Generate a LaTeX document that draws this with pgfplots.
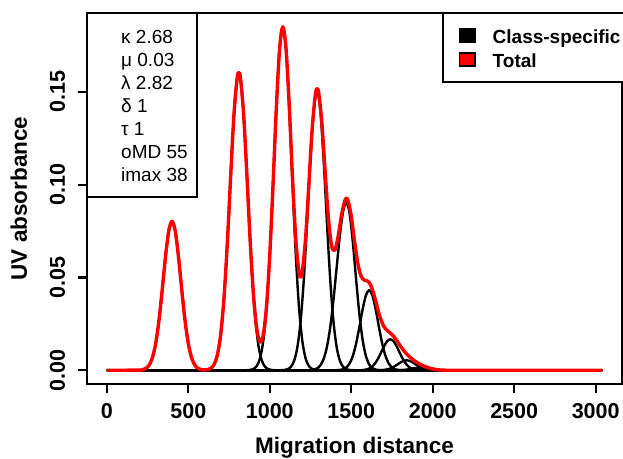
\documentclass[border=0pt]{standalone}
\usepackage{fontspec}
\setmainfont{Liberation Sans}
\usepackage{pgfplots}
\pgfplotsset{compat=1.18}

\newcommand{\tickfont}{\fontsize{21.5}{24}\selectfont\bfseries}
\newcommand{\labfont}{\fontsize{22.5}{26}\selectfont\bfseries}
\newcommand{\boxfont}{\fontsize{19}{22}\selectfont}

\begin{document}
\begin{tikzpicture}
\begin{axis}[
  name=ax,
  scale only axis, width=535pt, height=371pt,
  xmin=-121.6, xmax=3161.6, ymin=-0.0074, ymax=0.1925,
  xtick={0,500,1000,1500,2000,2500,3000},
  xticklabels={0,500,1000,1500,2000,2500,3000},
  ytick={0,0.05,0.1,0.15}, yticklabels={0.00,0.05,0.10,0.15},
  tick align=outside, major tick length=9pt,
  xtick pos=bottom, ytick pos=left,
  tick style={line width=2.2pt, black},
  axis line style={line width=2.2pt},
  ticklabel style={font=\tickfont},
  xticklabel style={anchor=base, yshift=-25pt},
  yticklabel style={rotate=90, anchor=base, yshift=13pt},
  xlabel={Migration distance}, ylabel={UV absorbance},
  every axis x label/.style={at={(rel axis cs:0.5,0)}, anchor=base, yshift=-69pt, font=\labfont},
  every axis y label/.style={at={(rel axis cs:0,0.5)}, rotate=90, anchor=base, yshift=60pt, font=\labfont},
  legend style={at={(0.6654,1)}, anchor=north west, draw=black, line width=2.2pt,
    outer sep=0pt, inner xsep=16pt, inner ysep=10.5pt, fill=white,
    font=\fontsize{19}{22}\selectfont\bfseries, column sep=15pt,
    nodes={text height=17.3pt, text depth=0.7pt, inner ysep=3pt}},
  legend cell align=left,
]
% class-specific curves
\addplot[black, line width=2.4pt, smooth, line join=round, forget plot] coordinates {
(0,0) (160,0) (180,0.00002) (200,0.00008) (220,0.00031) (240,0.00100) (260,0.00279) (280,0.00680)
(300,0.01445) (320,0.02680) (340,0.04331) (360,0.06103) (380,0.07498) (400,0.08030) (420,0.07498)
(440,0.06103) (460,0.04331) (480,0.02680) (500,0.01445) (520,0.00680) (540,0.00279) (560,0.00100)
(580,0.00031) (600,0.00008) (620,0.00002) (640,0) (3040,0)};
\addplot[black, line width=2.4pt, smooth, line join=round, forget plot] coordinates {
(0,0) (570,0.00001) (590,0.00004) (610,0.00017) (630,0.00062) (650,0.00199) (670,0.00556) (690,0.01357)
(710,0.02885) (730,0.05350) (750,0.08647) (770,0.12183) (790,0.14967) (810,0.16030) (830,0.14967)
(850,0.12183) (870,0.08647) (890,0.05350) (910,0.02885) (930,0.01357) (950,0.00556) (970,0.00199)
(990,0.00062) (1010,0.00017) (1030,0.00004) (1050,0.00001) (3040,0)};
\addplot[black, line width=2.4pt, smooth, line join=round, forget plot] coordinates {
(0,0) (840,0.00001) (860,0.00005) (880,0.00019) (900,0.00071) (920,0.00230) (940,0.00642) (960,0.01566)
(980,0.03330) (1000,0.06174) (1020,0.09979) (1040,0.14061) (1060,0.17274) (1080,0.18500) (1100,0.17274)
(1120,0.14061) (1140,0.09979) (1160,0.06174) (1180,0.03330) (1200,0.01566) (1220,0.00642) (1240,0.00230)
(1260,0.00071) (1280,0.00019) (1300,0.00005) (1320,0.00001) (3040,0)};
\addplot[black, line width=2.4pt, smooth, line join=round, forget plot] coordinates {
(0,0) (1050,0.00001) (1070,0.00004) (1090,0.00016) (1110,0.00058) (1130,0.00187) (1150,0.00522) (1170,0.01274)
(1190,0.02709) (1210,0.05023) (1230,0.08118) (1250,0.11439) (1270,0.14052) (1290,0.15050) (1310,0.14052)
(1330,0.11439) (1350,0.08118) (1370,0.05023) (1390,0.02709) (1410,0.01274) (1430,0.00522) (1450,0.00187)
(1470,0.00058) (1490,0.00016) (1510,0.00004) (1530,0.00001) (3040,0)};
\addplot[black, line width=2.4pt, smooth, line join=round, forget plot] coordinates {
(0,0) (1230,0.00003) (1250,0.00011) (1270,0.00035) (1290,0.00101) (1310,0.00259) (1330,0.00595) (1350,0.01225)
(1370,0.02257) (1390,0.03721) (1410,0.05489) (1430,0.07247) (1450,0.08561) (1470,0.09050) (1490,0.08450)
(1510,0.06878) (1530,0.04882) (1550,0.03020) (1570,0.01629) (1590,0.00766) (1610,0.00314) (1630,0.00112)
(1650,0.00035) (1670,0.00010) (1690,0.00002) (1710,0) (3040,0)};
\addplot[black, line width=2.4pt, smooth, line join=round, forget plot] coordinates {
(0,0) (1390,0.00001) (1410,0.00005) (1430,0.00017) (1450,0.00054) (1470,0.00150) (1490,0.00366) (1510,0.00778)
(1530,0.01442) (1550,0.02330) (1570,0.03283) (1590,0.04034) (1610,0.04320) (1630,0.04034) (1650,0.03283)
(1670,0.02330) (1690,0.01442) (1710,0.00778) (1730,0.00366) (1750,0.00150) (1770,0.00054) (1790,0.00017)
(1810,0.00005) (1830,0.00001) (3040,0)};
\addplot[black, line width=2.4pt, smooth, line join=round, forget plot] coordinates {
(0,0) (1540,0.00002) (1560,0.00006) (1580,0.00021) (1600,0.00058) (1620,0.00141) (1640,0.00301) (1660,0.00557)
(1680,0.00901) (1700,0.01269) (1720,0.01559) (1740,0.01670) (1760,0.01559) (1780,0.01269) (1800,0.00901)
(1820,0.00557) (1840,0.00301) (1860,0.00141) (1880,0.00058) (1900,0.00021) (1920,0.00006) (1940,0.00002) (3040,0)};
\addplot[black, line width=2.4pt, smooth, line join=round, forget plot] coordinates {
(0,0) (1660,0.00002) (1680,0.00007) (1700,0.00019) (1720,0.00046) (1740,0.00097) (1760,0.00180) (1780,0.00291)
(1800,0.00410) (1820,0.00504) (1840,0.00540) (1860,0.00504) (1880,0.00410) (1900,0.00291) (1920,0.00180)
(1940,0.00097) (1960,0.00046) (1980,0.00019) (2000,0.00007) (2020,0.00002) (3040,0)};
\addplot[black, line width=2.4pt, smooth, line join=round, forget plot] coordinates {
(0,0) (1770,0.00002) (1790,0.00005) (1810,0.00013) (1830,0.00027) (1850,0.00050) (1870,0.00081) (1890,0.00114)
(1910,0.00140) (1930,0.00150) (1950,0.00140) (1970,0.00114) (1990,0.00081) (2010,0.00050) (2030,0.00027)
(2050,0.00013) (2070,0.00005) (2090,0.00002) (3040,0)};
% total
\addplot[red, line width=3.4pt, smooth, line join=round, forget plot] coordinates {
(0,0) (200,0.00008) (220,0.00031) (240,0.00100) (260,0.00279) (280,0.00680) (300,0.01445) (320,0.02680)
(340,0.04331) (360,0.06103) (380,0.07498) (400,0.08030) (420,0.07498) (440,0.06103) (460,0.04331)
(480,0.02680) (500,0.01445) (520,0.00680) (540,0.00279) (560,0.00100) (580,0.00033) (600,0.00017)
(620,0.00035) (640,0.00113) (660,0.00338) (680,0.00884) (700,0.02013) (720,0.03997) (740,0.06919)
(760,0.10441) (780,0.13738) (800,0.15757) (810,0.16030) (820,0.15757) (840,0.13739) (860,0.10446)
(880,0.06938) (900,0.04068) (920,0.02243) (940,0.01526) (960,0.01904) (980,0.03443) (1000,0.06207)
(1020,0.09987) (1040,0.14063) (1060,0.17274) (1080,0.18508) (1100,0.17305) (1120,0.14167) (1140,0.10297)
(1160,0.07004) (1180,0.05220) (1190,0.05032) (1200,0.05319) (1220,0.07140) (1240,0.10039) (1260,0.12989)
(1280,0.14873) (1290,0.15160) (1300,0.14963) (1320,0.13296) (1340,0.10668) (1360,0.08182) (1380,0.06691)
(1400,0.06474) (1420,0.07234) (1440,0.08335) (1460,0.09122) (1470,0.09258) (1480,0.09165) (1500,0.08307)
(1520,0.06974) (1540,0.05773) (1560,0.05077) (1580,0.04860) (1600,0.04804) (1610,0.04726) (1620,0.04579)
(1640,0.04068) (1660,0.03392) (1680,0.02778) (1700,0.02365) (1720,0.02148) (1740,0.02005) (1760,0.01831)
(1780,0.01593) (1800,0.01328) (1820,0.01082) (1840,0.00878) (1860,0.00710) (1880,0.00566) (1900,0.00441)
(1920,0.00333) (1940,0.00246) (1960,0.00175) (1980,0.00117) (2000,0.00072) (2020,0.00039) (2040,0.00019)
(2060,0.00008) (2080,0.00003) (2100,0) (3040,0)};
% legend
\addlegendimage{legend image code/.code={\draw[fill=black, draw=black, line width=1.2pt] (0pt,-6.5pt) rectangle (15.5pt,6.5pt);}}
\addlegendentry{Class-specific}
\addlegendimage{legend image code/.code={\draw[fill=red, draw=black, line width=1.2pt] (0pt,-6.5pt) rectangle (15.5pt,6.5pt);}}
\addlegendentry{Total}
% parameter box
\node[draw=black, line width=2.2pt, fill=white, anchor=north west, outer sep=0pt, inner sep=0pt,
  minimum width=110pt, minimum height=184pt] at (rel axis cs:0,1) {};
\node[anchor=base west, font=\boxfont, inner sep=0pt, xshift=34pt, yshift=-30.8pt] at (rel axis cs:0,1) {κ 2.68};
\node[anchor=base west, font=\boxfont, inner sep=0pt, xshift=34pt, yshift=-53.8pt] at (rel axis cs:0,1) {μ 0.03};
\node[anchor=base west, font=\boxfont, inner sep=0pt, xshift=34pt, yshift=-76.8pt] at (rel axis cs:0,1) {λ 2.82};
\node[anchor=base west, font=\boxfont, inner sep=0pt, xshift=34pt, yshift=-99.8pt] at (rel axis cs:0,1) {δ 1};
\node[anchor=base west, font=\boxfont, inner sep=0pt, xshift=34pt, yshift=-122.8pt] at (rel axis cs:0,1) {τ 1};
\node[anchor=base west, font=\boxfont, inner sep=0pt, xshift=34pt, yshift=-145.8pt] at (rel axis cs:0,1) {oMD 55};
\node[anchor=base west, font=\boxfont, inner sep=0pt, xshift=34pt, yshift=-168.8pt] at (rel axis cs:0,1) {imax 38};
\end{axis}
\pgfresetboundingbox
\path[use as bounding box] ([xshift=-87pt,yshift=-74pt]ax.south west) rectangle ([xshift=1pt,yshift=13pt]ax.north east);
\end{tikzpicture}
\end{document}
